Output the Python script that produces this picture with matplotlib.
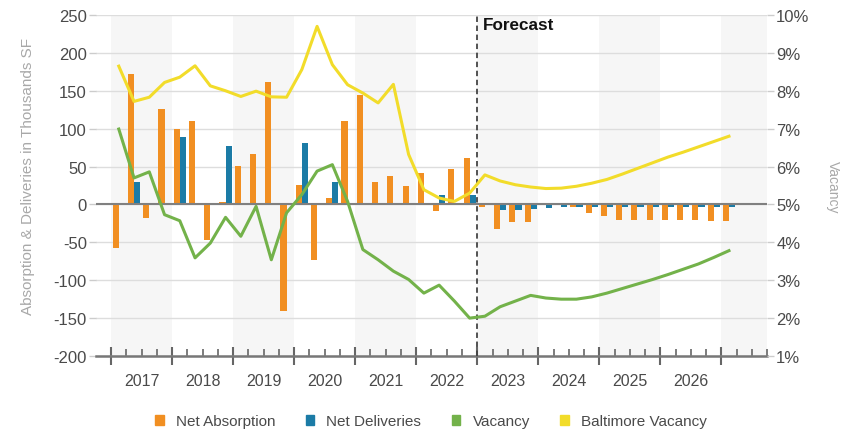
import matplotlib
matplotlib.use("Agg")
import matplotlib.pyplot as plt
from matplotlib.patches import Patch


# 季度数据: 2017Q1 ~ 2027Q1, 共41个季度
years = ["2017", "2018", "2019", "2020", "2021",
         "2022", "2023", "2024", "2025", "2026"]

# 净吸纳量 (千平方英尺)
net_absorption = [
    -57, 172, -18, 126,
    100, 110, -47, 3,
    51, 67, 161, -141,
    26, -73, 9, 110,
    144, 30, 38, 25,
    42, -9, 47, 61,
    -4, -33, -23, -23,
    0, 0, -3, -11,
    -15, -20, -21, -21,
    -21, -21, -21, -22,
    -22,
]

# 净交付量 (千平方英尺)
net_deliveries = [
    0, 30, 0, 0,
    89, 0, 0, 77,
    0, 0, 0, 0,
    81, 0, 30, 0,
    0, 0, 0, 0,
    0, 12, 0, 13,
    0, -7, -7, -6,
    -5, -4, -4, -4,
    -4, -4, -4, -4,
    -4, -4, -4, -4,
    -4,
]

# 空置率 (%)
vacancy = [
    6.99, 5.70, 5.86, 4.73,
    4.57, 3.59, 3.98, 4.66,
    4.16, 4.95, 3.54, 4.78,
    5.26, 5.88, 6.05, 5.08,
    3.81, 3.54, 3.24, 3.02,
    2.66, 2.87, 2.45, 2.00,
    2.05, 2.30, 2.45, 2.60,
    2.53, 2.50, 2.50, 2.56,
    2.66, 2.78, 2.90, 3.02,
    3.15, 3.29, 3.43, 3.60,
    3.78,
]

# 巴尔的摩整体空置率 (%)
baltimore_vacancy = [
    8.65, 7.72, 7.83, 8.22,
    8.36, 8.66, 8.13, 8.00,
    7.85, 7.99, 7.84, 7.83,
    8.56, 9.70, 8.69, 8.16,
    7.94, 7.68, 8.17, 6.32,
    5.39, 5.17, 5.08, 5.30,
    5.78, 5.62, 5.52, 5.46,
    5.42, 5.43, 5.48, 5.56,
    5.66, 5.80, 5.95, 6.10,
    6.25, 6.38, 6.52, 6.66,
    6.80,
]

# 预测起始季度 (2023Q1)
forecast_start = 24

ORANGE = "#F18F22"
BLUE = "#1B7BA6"
GREEN = "#73B24A"
YELLOW = "#F2DC2A"
TEXT = "#4a4a4a"


def plot_market(out_file: str):
    """
    吸纳量/交付量柱状图 + 空置率折线图
    """

    plt.rcParams["font.family"] = ["Liberation Sans", "DejaVu Sans"]
    plt.rcParams["axes.unicode_minus"] = False

    fig = plt.figure(figsize=(8.57, 4.35), dpi=100)
    ax = fig.add_axes([0.1119, 0.1793, 0.7832, 0.7839])
    ax2 = ax.twinx()

    n = len(net_absorption)
    x = list(range(n))

    # =========================
    # 年份底色 (隔年灰色)
    # =========================
    for k in range(0, 11, 2):
        ax.axvspan(4 * k - 0.5, 4 * k + 3.5,
                   color="#f6f6f6", lw=0, zorder=0)

    ax.set_xlim(-1.5, 41.5)
    ax.set_ylim(-200, 250)
    ax.set_yticks(range(-200, 251, 50))
    ax.grid(axis="y", color="#dddddd", lw=1.0, zorder=1)
    ax.set_axisbelow(True)

    # =========================
    # 柱状图
    # =========================
    ax.bar([i - 0.2 for i in x], net_absorption, width=0.4,
           color=ORANGE, zorder=2)
    ax.bar([i + 0.2 for i in x], net_deliveries, width=0.4,
           color=BLUE, zorder=2)

    ax.axhline(0, color="#808080", lw=1.5, zorder=3)

    # 预测分界线
    ax.axvline(forecast_start - 0.5, color="#444444",
               ls=(0, (3, 2)), lw=1.3, zorder=4)
    ax.text(forecast_start - 0.1, 248, "Forecast", fontsize=12.3,
            fontweight="bold", color="#111111", ha="left", va="top")

    # =========================
    # 空置率折线
    # =========================
    ax2.plot(x, baltimore_vacancy, color=YELLOW, lw=2.2, zorder=5)
    ax2.plot(x, vacancy, color=GREEN, lw=2.2, zorder=5)
    ax2.set_ylim(1, 10)
    ax2.set_yticks(range(1, 11))
    ax2.set_yticklabels([f"{v}%" for v in range(1, 11)])

    # =========================
    # 坐标轴样式
    # =========================
    for a in (ax, ax2):
        for side in ("top", "left", "right"):
            a.spines[side].set_visible(False)
    ax2.spines["bottom"].set_visible(False)
    ax.spines["bottom"].set_color("#777777")
    ax.spines["bottom"].set_linewidth(1.8)

    ax.set_xticks([4 * k - 0.5 for k in range(11)])
    ax.set_xticks([i - 0.5 for i in range(0, 44)], minor=True)
    ax.set_xticklabels([])
    ax.tick_params(axis="x", which="major", direction="inout",
                   length=13, width=1.5, color="#666666")
    ax.tick_params(axis="x", which="minor", direction="in",
                   length=5, width=1.2, color="#666666")

    ax.tick_params(axis="y", length=5, width=1, color="#cccccc",
                   labelsize=12, labelcolor=TEXT, pad=1.5)
    ax2.tick_params(axis="y", length=5, width=1, color="#cccccc",
                    labelsize=12, labelcolor=TEXT, pad=1.5)

    # 零刻度加深
    ax.yaxis.get_major_ticks()[4].tick1line.set_color("#777777")
    ax2.yaxis.get_major_ticks()[4].tick2line.set_color("#777777")

    trans = ax.get_xaxis_transform()
    for k, year in enumerate(years):
        ax.text(4 * k + 1.5, -0.072, year, transform=trans,
                ha="center", va="center", fontsize=11.5, color=TEXT)

    fig.text(28 / 857, 1 - 177 / 435,
             "Absorption & Deliveries in Thousands SF",
             rotation=90, ha="center", va="center",
             fontsize=11, color="#a8a8a8")
    fig.text(833 / 857, 1 - 187 / 435, "Vacancy",
             rotation=270, ha="center", va="center",
             fontsize=10, color="#a8a8a8")

    # =========================
    # 图例
    # =========================
    handles = [
        Patch(color=ORANGE, label="Net Absorption"),
        Patch(color=BLUE, label="Net Deliveries"),
        Patch(color=GREEN, label="Vacancy"),
        Patch(color=YELLOW, label="Baltimore Vacancy"),
    ]
    leg = fig.legend(
        handles=handles,
        loc="center",
        bbox_to_anchor=(431 / 857, 1 - 422 / 435),
        ncol=4,
        frameon=False,
        fontsize=11,
        handlelength=0.55,
        handleheight=0.65,
        handletextpad=0.8,
        columnspacing=2.0,
    )
    for t in leg.get_texts():
        t.set_color("#4a4a4a")

    fig.savefig(out_file, dpi=100)


def main():

    plot_market("out.png")


if __name__ == "__main__":
    main()
